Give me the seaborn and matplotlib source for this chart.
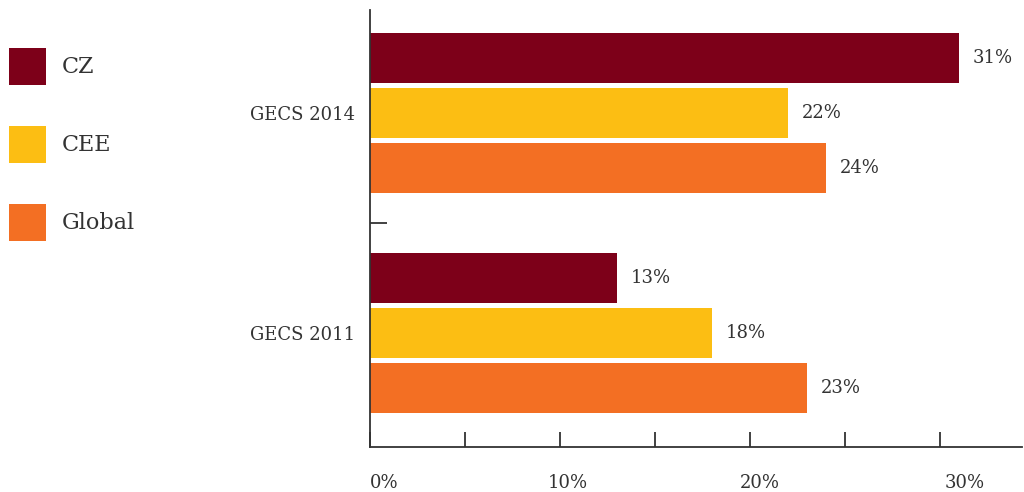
import matplotlib
matplotlib.use("Agg")
import matplotlib.pyplot as plt
import matplotlib.transforms as mtransforms
from matplotlib.ticker import FixedLocator
import seaborn as sns
import pandas as pd

# Survey rounds (top to bottom) and regions compared in each
surveys = ["GECS 2014", "GECS 2011"]
regions = ["CZ", "CEE", "Global"]

# Share of respondents per region, in percent, one value per survey round
cz_share = [31, 13]
cee_share = [22, 18]
global_share = [24, 23]

x_ticks = [0, 5, 10, 15, 20, 25, 30]
x_tick_labels = ["0%", "", "10%", "", "20%", "", "30%"]

palette = ["#7D0019", "#FCBE13", "#F36F23"]
text_color = "#333333"

rows = []
for region, values in zip(regions, [cz_share, cee_share, global_share]):
    for survey, value in zip(surveys, values):
        rows.append({"survey": survey, "region": region, "share": value})
df = pd.DataFrame(rows)

sns.set_theme(style="white")
plt.rcParams["font.family"] = ["DejaVu Serif"]
plt.rcParams["text.color"] = text_color

fig = plt.figure(figsize=(10.24, 4.92), dpi=100)
ax = fig.add_axes([370 / 1024, 1 - 447 / 492, (1022 - 370) / 1024, (447 - 10) / 492])

sns.barplot(
    data=df, y="survey", x="share", hue="region",
    order=surveys, hue_order=regions, palette=palette,
    orient="h", width=0.75, gap=0.09, saturation=1,
    linewidth=0, errorbar=None, ax=ax,
)

ax.set_xlim(0, 34.3)
ax.set_ylim(1.518, -0.468)

# Value labels at the end of each bar
for container in ax.containers:
    ax.bar_label(container, labels=[f"{v:.0f}%" for v in container.datavalues],
                 padding=9.5, fontsize=13, color=text_color)

# Axes styling
for side in ["top", "right"]:
    ax.spines[side].set_visible(False)
for side in ["left", "bottom"]:
    ax.spines[side].set_color(text_color)
    ax.spines[side].set_linewidth(1.3)

ax.set_xticks(x_ticks)
ax.set_xticklabels(x_tick_labels)
ax.tick_params(axis="x", which="major", direction="in", length=11, width=1.3,
               color=text_color, labelsize=13, labelcolor=text_color, pad=19.5,
               bottom=True)
# Nudge the percentage labels slightly to the right of their ticks
label_shift_px = [14, 0, 8, 0, 10, 0, 24]
for lbl, dx in zip(ax.get_xticklabels(), label_shift_px):
    shift = mtransforms.ScaledTranslation(dx / 100, 0, fig.dpi_scale_trans)
    lbl.set_transform(lbl.get_transform() + shift)

ax.set_yticks([0, 1])
ax.set_yticklabels(surveys)
ax.tick_params(axis="y", which="major", length=0, labelsize=13,
               labelcolor=text_color, pad=11)
ax.yaxis.set_minor_locator(FixedLocator([0.5]))
ax.tick_params(axis="y", which="minor", direction="in", length=12, width=1.3,
               color=text_color, left=True)
ax.set_xlabel("")
ax.set_ylabel("")
ax.grid(False)

# Legend on the far left, with square swatches
handles, labels = ax.get_legend_handles_labels()
ax.get_legend().remove()
fs = 16
em = fs * 100 / 72
swatch = 37 / em
fig.legend(handles, labels, loc="upper left",
           bbox_to_anchor=(9 / 1024, 1 - 48 / 492), bbox_transform=fig.transFigure,
           frameon=False, fontsize=fs, labelcolor=text_color,
           handlelength=swatch, handleheight=(swatch - 0.245) / 0.65,
           handletextpad=16 / em, labelspacing=41 / em,
           borderaxespad=0, borderpad=0)

fig.savefig("out.png", dpi=100)
